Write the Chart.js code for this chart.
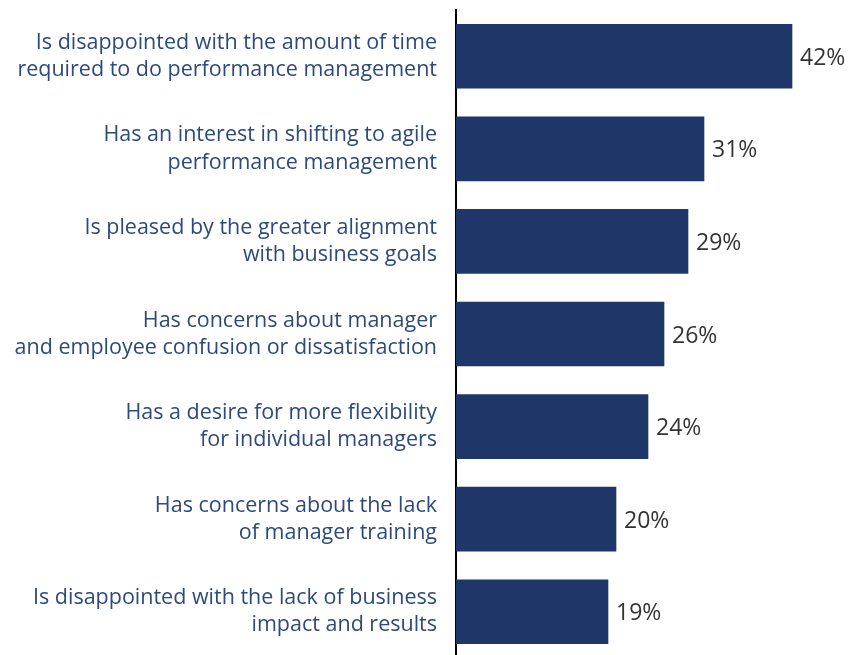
<!DOCTYPE html>
<html>
<head>
<meta charset="utf-8">
<script src="https://cdn.jsdelivr.net/npm/chart.js@4/dist/chart.umd.min.js"></script>
<style>
  html, body { margin: 0; padding: 0; background: #fff; overflow: hidden; }
  #wrap { width: 850px; height: 660px; }
</style>
</head>
<body>
<div id="wrap"><canvas id="barChart" width="850" height="660"></canvas></div>
<script>
const categories = [
    ['Is disappointed with the amount of time', 'required to do performance management'],
    ['Has an interest in shifting to agile', 'performance management'],
    ['Is pleased by the greater alignment', 'with business goals'],
    ['Has concerns about manager', 'and employee confusion or dissatisfaction'],
    ['Has a desire for more flexibility', 'for individual managers'],
    ['Has concerns about the lack', 'of manager training'],
    ['Is disappointed with the lack of business', 'impact and results']
];
const percentValues = [42, 31, 29, 26, 24, 20, 19];

// writes "42%" etc. just right of each bar end
const valueLabels = {
    id: 'valueLabels',
    afterDatasetsDraw(chart) {
        const ctx = chart.ctx;
        const meta = chart.getDatasetMeta(0);
        ctx.save();
        ctx.font = '23px "Open Sans"';
        ctx.fillStyle = '#333333';
        ctx.textAlign = 'left';
        ctx.textBaseline = 'middle';
        meta.data.forEach((bar, i) => {
            ctx.fillText(percentValues[i] + '%', bar.x + 8, bar.y + 2);
        });
        ctx.restore();
    }
};

const ctx = document.getElementById('barChart').getContext('2d');
const barChart = new Chart(ctx, {
    type: 'bar',
    data: {
        labels: categories,
        datasets: [{
            data: percentValues,
            backgroundColor: '#1e3768',
            borderWidth: 0,
            barThickness: 64
        }]
    },
    options: {
        indexAxis: 'y',
        responsive: false,
        animation: false,
        layout: { padding: { top: 10, bottom: 2, left: 0, right: 2 } },
        plugins: {
            legend: { display: false },
            tooltip: { enabled: false }
        },
        scales: {
            x: {
                min: 0,
                max: 49,
                display: false,
                grid: { display: false }
            },
            y: {
                grid: { display: false, drawTicks: false },
                border: { display: true, color: '#000000', width: 2 },
                ticks: {
                    color: '#2d4a7c',
                    padding: 19,
                    font: { family: '"Open Sans"', size: 21.5, lineHeight: 1.26 }
                },
                afterFit(scale) {
                    scale.width = 456;
                    // don't let the two-line labels push the plot area in
                    scale.paddingTop = 0;
                    scale.paddingBottom = 0;
                }
            }
        }
    },
    plugins: [valueLabels]
});
</script>
</body>
</html>
